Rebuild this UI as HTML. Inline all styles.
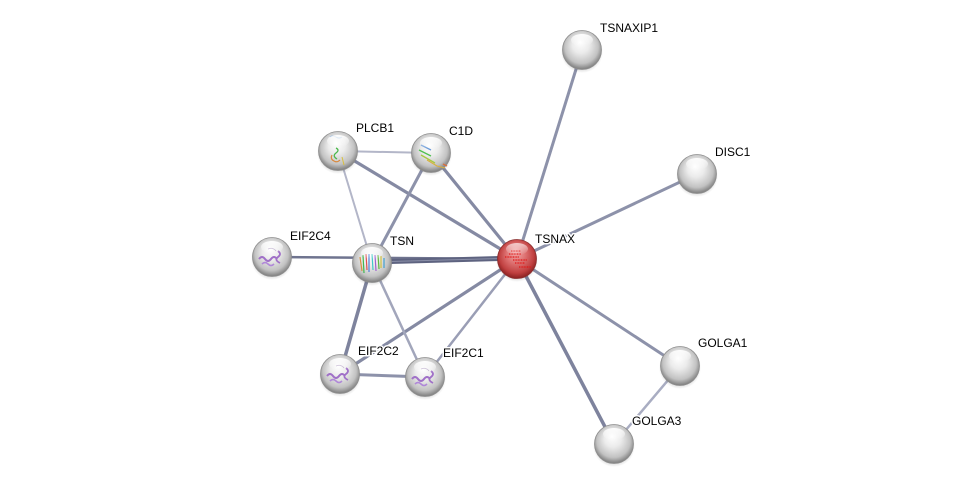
<!DOCTYPE html>
<html>
<head>
<meta charset="utf-8">
<style>
html,body{margin:0;padding:0;background:#fff;}
svg{display:block;}
text{font-family:"Liberation Sans",sans-serif;font-size:12px;fill:#000;paint-order:stroke;stroke:#fff;stroke-width:3px;stroke-linejoin:round;}
</style>
</head>
<body>
<svg width="976" height="489" viewBox="0 0 976 489" xmlns="http://www.w3.org/2000/svg">
<defs>
  <radialGradient id="g" cx="50%" cy="45%" r="55%" fx="45%" fy="30%">
    <stop offset="0" stop-color="#ffffff"/>
    <stop offset="0.4" stop-color="#ebebeb"/>
    <stop offset="0.78" stop-color="#c2c2c2"/>
    <stop offset="1" stop-color="#7c7c7c"/>
  </radialGradient>
  <radialGradient id="r" cx="50%" cy="45%" r="55%" fx="45%" fy="30%">
    <stop offset="0" stop-color="#f4b0b0"/>
    <stop offset="0.45" stop-color="#dd7070"/>
    <stop offset="0.8" stop-color="#c04040"/>
    <stop offset="1" stop-color="#8a2020"/>
  </radialGradient>
  <linearGradient id="hl" x1="0" y1="0" x2="0" y2="1">
    <stop offset="0" stop-color="#fff" stop-opacity="0.95"/>
    <stop offset="1" stop-color="#fff" stop-opacity="0"/>
  </linearGradient>
  <radialGradient id="sh" cx="50%" cy="50%" r="50%">
    <stop offset="0.6" stop-color="#000" stop-opacity="0.28"/>
    <stop offset="1" stop-color="#000" stop-opacity="0"/>
  </radialGradient>
</defs>

<!-- edges -->
<g stroke-linecap="round" fill="none">
  <line x1="517" y1="259" x2="582" y2="50" stroke="#8d92aa" stroke-width="3"/>
  <line x1="517" y1="259" x2="697" y2="174" stroke="#8d92aa" stroke-width="3"/>
  <line x1="517" y1="259" x2="680" y2="366" stroke="#8d92aa" stroke-width="3"/>
  <line x1="517" y1="259" x2="614" y2="444" stroke="#7e839d" stroke-width="3.5"/>
  <line x1="680" y1="366" x2="614" y2="444" stroke="#a9adc2" stroke-width="2.5"/>
  <line x1="517" y1="259" x2="431" y2="153" stroke="#858aa3" stroke-width="3.2"/>
  <line x1="517" y1="259" x2="338" y2="151" stroke="#858aa3" stroke-width="3.2"/>
  <line x1="517" y1="259" x2="340" y2="374" stroke="#858aa3" stroke-width="3.2"/>
  <line x1="517" y1="259" x2="425" y2="377" stroke="#9a9eb5" stroke-width="2.5"/>
  <line x1="338" y1="151" x2="431" y2="153" stroke="#b3b6c8" stroke-width="2"/>
  <line x1="338" y1="151" x2="372" y2="263" stroke="#b3b6c8" stroke-width="2"/>
  <line x1="431" y1="153" x2="372" y2="263" stroke="#8d92aa" stroke-width="3"/>
  <line x1="272" y1="257" x2="517" y2="259" stroke="#6f748f" stroke-width="2.5"/>
  <line x1="372" y1="263" x2="340" y2="374" stroke="#7e839d" stroke-width="3.5"/>
  <line x1="372" y1="263" x2="425" y2="377" stroke="#a2a6bb" stroke-width="2.5"/>
  <line x1="340" y1="374" x2="425" y2="377" stroke="#8d92aa" stroke-width="3"/>
  <line x1="372" y1="262" x2="517" y2="258" stroke="#5e6380" stroke-width="5"/>
  <line x1="372" y1="262" x2="517" y2="258" stroke="#8a8fa8" stroke-width="1"/>
</g>

<!-- nodes -->
<g id="nodes">
  <g transform="translate(582,50)">
    <circle r="21" cy="2" fill="url(#sh)"/>
    <circle r="19.5" fill="url(#g)" stroke="#8e8e8e" stroke-width="0.8"/>
    <ellipse cx="0" cy="-10" rx="11" ry="6" fill="url(#hl)"/>
  </g>
  <g transform="translate(697,174)">
    <circle r="21" cy="2" fill="url(#sh)"/>
    <circle r="19.5" fill="url(#g)" stroke="#8e8e8e" stroke-width="0.8"/>
    <ellipse cx="0" cy="-10" rx="11" ry="6" fill="url(#hl)"/>
  </g>
  <g transform="translate(680,366)">
    <circle r="21" cy="2" fill="url(#sh)"/>
    <circle r="19.5" fill="url(#g)" stroke="#8e8e8e" stroke-width="0.8"/>
    <ellipse cx="0" cy="-10" rx="11" ry="6" fill="url(#hl)"/>
  </g>
  <g transform="translate(614,444)">
    <circle r="21" cy="2" fill="url(#sh)"/>
    <circle r="19.5" fill="url(#g)" stroke="#8e8e8e" stroke-width="0.8"/>
    <ellipse cx="0" cy="-10" rx="11" ry="6" fill="url(#hl)"/>
  </g>
  <!-- PLCB1 -->
  <g transform="translate(338,151)">
    <circle r="21" cy="2" fill="url(#sh)"/>
    <circle r="19.5" fill="url(#g)" stroke="#8e8e8e" stroke-width="0.8"/>
    <path d="M-8,-14 q3,-2 6,0 q3,2 6,0" stroke="#7aa8d8" stroke-width="1" fill="none"/>
    <path d="M-2,-3 q4,2 0,5 q-4,3 1,6" stroke="#4cb84c" stroke-width="1.3" fill="none"/>
    <path d="M-6,4 q-2,4 2,6 q3,2 6,-1" stroke="#d88a40" stroke-width="1.2" fill="none"/>
    <path d="M4,6 l2,8" stroke="#d8c040" stroke-width="1" fill="none"/>
    <ellipse cx="0" cy="-10" rx="11" ry="6" fill="url(#hl)"/>
  </g>
  <!-- C1D -->
  <g transform="translate(431,153)">
    <circle r="21" cy="2" fill="url(#sh)"/>
    <circle r="19.5" fill="url(#g)" stroke="#8e8e8e" stroke-width="0.8"/>
    <path d="M-10,-8 l10,5" stroke="#6a9ad8" stroke-width="1.3"/>
    <path d="M-12,-3 l12,6" stroke="#50c050" stroke-width="1.3"/>
    <path d="M-10,2 l14,8" stroke="#a8c840" stroke-width="1.3"/>
    <path d="M-4,7 l10,6 l8,2" stroke="#d8b040" stroke-width="1.1" fill="none"/>
    <path d="M12,11 l4,2" stroke="#d87040" stroke-width="1.5"/>
    <ellipse cx="0" cy="-10" rx="11" ry="6" fill="url(#hl)"/>
  </g>
  <!-- EIF2C4 -->
  <g transform="translate(272,257)">
    <circle r="21" cy="2" fill="url(#sh)"/>
    <circle r="19.5" fill="url(#g)" stroke="#8e8e8e" stroke-width="0.8"/>
    <path d="M-13,2 q3,-4 6,0 q3,4 6,0 q3,-4 6,0" stroke="#a070c8" stroke-width="2" fill="none"/>
    <path d="M-10,7 q3,-3 6,0 q3,3 6,0" stroke="#b088d8" stroke-width="1.6" fill="none"/>
    <path d="M6,-6 q4,3 0,6 q-4,3 2,6" stroke="#a070c8" stroke-width="1.8" fill="none"/>
    <path d="M-4,-8 q5,-2 8,2" stroke="#b8a8c8" stroke-width="0.8" fill="none"/>
    <ellipse cx="0" cy="-10" rx="11" ry="6" fill="url(#hl)"/>
  </g>
  <!-- TSN -->
  <g transform="translate(372,263)">
    <circle r="21" cy="2" fill="url(#sh)"/>
    <circle r="19.5" fill="url(#g)" stroke="#8e8e8e" stroke-width="0.8"/>
    <path d="M-12,-6 l2,14" stroke="#d89040" stroke-width="1.2"/>
    <path d="M-9,-8 l1,18" stroke="#40b850" stroke-width="1.2"/>
    <path d="M-6,-9 l1,16" stroke="#e05050" stroke-width="1.2"/>
    <path d="M-3,-9 l0,18" stroke="#5080d8" stroke-width="1.2"/>
    <path d="M0,-9 l1,16" stroke="#40c8c8" stroke-width="1.2"/>
    <path d="M3,-8 l1,16" stroke="#a060d0" stroke-width="1.2"/>
    <path d="M6,-8 l1,14" stroke="#60b840" stroke-width="1.2"/>
    <path d="M9,-7 l0,12" stroke="#d0c040" stroke-width="1.2"/>
    <path d="M12,-5 l0,10" stroke="#40a0d0" stroke-width="1.2"/>
    <ellipse cx="0" cy="-10" rx="11" ry="6" fill="url(#hl)"/>
  </g>
  <!-- EIF2C2 -->
  <g transform="translate(340,374)">
    <circle r="21" cy="2" fill="url(#sh)"/>
    <circle r="19.5" fill="url(#g)" stroke="#8e8e8e" stroke-width="0.8"/>
    <path d="M-13,2 q3,-4 6,0 q3,4 6,0 q3,-4 6,0" stroke="#a070c8" stroke-width="2" fill="none"/>
    <path d="M-10,7 q3,-3 6,0 q3,3 6,0" stroke="#b088d8" stroke-width="1.6" fill="none"/>
    <path d="M6,-6 q4,3 0,6 q-4,3 2,6" stroke="#a070c8" stroke-width="1.8" fill="none"/>
    <path d="M-4,-8 q5,-2 8,2" stroke="#b8a8c8" stroke-width="0.8" fill="none"/>
    <ellipse cx="0" cy="-10" rx="11" ry="6" fill="url(#hl)"/>
  </g>
  <!-- EIF2C1 -->
  <g transform="translate(425,377)">
    <circle r="21" cy="2" fill="url(#sh)"/>
    <circle r="19.5" fill="url(#g)" stroke="#8e8e8e" stroke-width="0.8"/>
    <path d="M-13,2 q3,-4 6,0 q3,4 6,0 q3,-4 6,0" stroke="#a070c8" stroke-width="2" fill="none"/>
    <path d="M-10,7 q3,-3 6,0 q3,3 6,0" stroke="#b088d8" stroke-width="1.6" fill="none"/>
    <path d="M6,-6 q4,3 0,6 q-4,3 2,6" stroke="#a070c8" stroke-width="1.8" fill="none"/>
    <path d="M-4,-8 q5,-2 8,2" stroke="#b8a8c8" stroke-width="0.8" fill="none"/>
    <ellipse cx="0" cy="-10" rx="11" ry="6" fill="url(#hl)"/>
  </g>
  <!-- TSNAX -->
  <g transform="translate(517,259)">
    <circle r="21" cy="2" fill="url(#sh)"/>
    <circle r="19.5" fill="url(#r)" stroke="#8a3030" stroke-width="0.8"/>
    <path d="M-12,-2 l14,0 M-8,-5 l12,0 M-4,1 l14,0 M-2,4 l10,0 M2,8 l12,0 M-6,-8 l10,0" stroke="#e01818" stroke-width="1.2" stroke-dasharray="1 0.6"/>
    <ellipse cx="0" cy="-10" rx="11" ry="6" fill="url(#hl)" opacity="0.7"/>
  </g>
</g>

<!-- labels -->
<g>
  <text x="600" y="32">TSNAXIP1</text>
  <text x="715" y="156">DISC1</text>
  <text x="356" y="132">PLCB1</text>
  <text x="449" y="135">C1D</text>
  <text x="290" y="240">EIF2C4</text>
  <text x="390" y="245">TSN</text>
  <text x="535" y="243">TSNAX</text>
  <text x="358" y="355">EIF2C2</text>
  <text x="443" y="357">EIF2C1</text>
  <text x="698" y="347">GOLGA1</text>
  <text x="632" y="425">GOLGA3</text>
</g>
</svg>
</body>
</html>
